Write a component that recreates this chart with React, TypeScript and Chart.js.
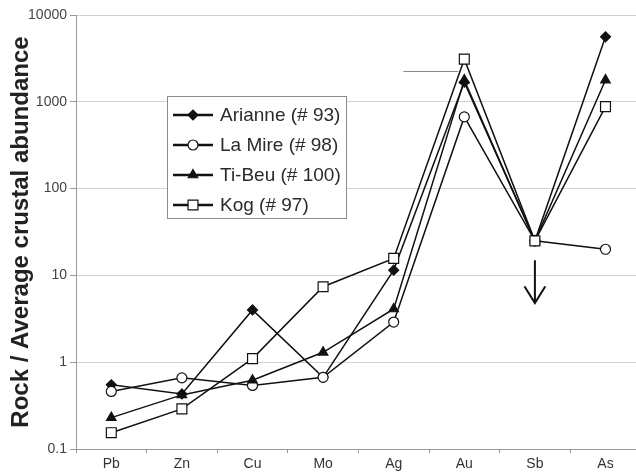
import React, { useEffect, useRef } from "react";
import { Chart, registerables } from "chart.js";
import { drawPoint } from "chart.js/helpers";

Chart.register(...registerables);

// Elements along the x axis
const elements = ["Pb", "Zn", "Cu", "Mo", "Ag", "Au", "Sb", "As"];

// Rock / average crustal abundance for each sample
const arianne = [0.55, 0.43, 4.0, 0.67, 11.5, 1680, 25, 5600];
const laMire = [0.46, 0.66, 0.54, 0.67, 2.9, 670, 25, 20];
const tiBeu = [0.23, 0.42, 0.62, 1.3, 4.1, 1780, 25, 1780];
const kog = [0.154, 0.29, 1.1, 7.4, 15.7, 3100, 25, 880];

const yTicks = [0.1, 1, 10, 100, 1000, 10000];

// Downward arrow under Sb (detection-limit marker), in data units
const arrowTop = 14.7;
const arrowTip = 4.8;

const seriesNames = ["Arianne (# 93)", "La Mire (# 98)", "Ti-Beu (# 100)", "Kog (# 97)"];

const FONT = "'Liberation Sans', Arial, Helvetica, sans-serif";

const overlayPlugin = {
  id: "overlay",
  afterDraw(chart: any) {
    const ctx = chart.ctx as CanvasRenderingContext2D;
    const xs = chart.scales.x;
    const ys = chart.scales.y;

    // short stray rule left of the Au peak
    const au = xs.getPixelForValue(5);
    ctx.save();
    ctx.strokeStyle = "#8a8a8a";
    ctx.lineWidth = 1;
    ctx.beginPath();
    ctx.moveTo(au - 61, 71.5);
    ctx.lineTo(au - 6, 71.5);
    ctx.stroke();
    ctx.restore();

    // arrow below Sb
    const sx = xs.getPixelForValue(6);
    const yTop = ys.getPixelForValue(arrowTop);
    const yTip = ys.getPixelForValue(arrowTip);
    ctx.save();
    ctx.strokeStyle = "#111";
    ctx.lineWidth = 2;
    ctx.lineCap = "round";
    ctx.beginPath();
    ctx.moveTo(sx, yTop);
    ctx.lineTo(sx, yTip);
    ctx.moveTo(sx - 10, yTip - 16);
    ctx.lineTo(sx, yTip);
    ctx.lineTo(sx + 10, yTip - 16);
    ctx.stroke();
    ctx.restore();

    // legend box
    const bx = 167, by = 96, bw = 179, bh = 122;
    ctx.save();
    ctx.fillStyle = "#ffffff";
    ctx.fillRect(bx, by, bw, bh);
    ctx.strokeStyle = "#8c8c8c";
    ctx.lineWidth = 1;
    ctx.strokeRect(bx + 0.5, by + 0.5, bw, bh);
    const ds = chart.data.datasets;
    for (let i = 0; i < ds.length; i++) {
      const rowY = 115 + i * 30;
      ctx.strokeStyle = "#111";
      ctx.lineWidth = 2.5;
      ctx.beginPath();
      ctx.moveTo(173, rowY);
      ctx.lineTo(213, rowY);
      ctx.stroke();
      ctx.lineWidth = 1.2;
      ctx.fillStyle = ds[i].pointBackgroundColor;
      ctx.strokeStyle = "#111";
      drawPoint(ctx, { pointStyle: ds[i].pointStyle, radius: ds[i].pointRadius, rotation: 0, borderWidth: 1.2 }, 193, rowY);
      ctx.fillStyle = "#2a2a2a";
      ctx.font = `19px ${FONT}`;
      ctx.textBaseline = "middle";
      ctx.textAlign = "left";
      ctx.fillText(ds[i].label, 220, rowY + 1);
    }
    ctx.restore();
  },
};

function makeSet(label: string, data: number[], style: string, fill: string, radius: number, order: number) {
  return {
    label,
    data,
    borderColor: "#111",
    borderWidth: 1.5,
    pointStyle: style,
    pointRadius: radius,
    pointBorderWidth: 1.2,
    pointBorderColor: "#111",
    pointBackgroundColor: fill,
    tension: 0,
    order,
  };
}

export default function App() {
  const ref = useRef<HTMLCanvasElement>(null);

  useEffect(() => {
    if (!ref.current) return;
    const chart = new Chart(ref.current, {
      type: "line",
      data: {
        labels: elements,
        datasets: [
          makeSet(seriesNames[0], arianne, "rectRot", "#111", 5, 3),
          makeSet(seriesNames[1], laMire, "circle", "#ffffff", 5, 2),
          makeSet(seriesNames[2], tiBeu, "triangle", "#111", 5.5, 1),
          makeSet(seriesNames[3], kog, "rect", "#ffffff", 7, 0),
        ],
      },
      options: {
        responsive: false,
        animation: false,
        layout: { padding: { top: 15, left: 0, right: 0, bottom: 0 } },
        plugins: {
          legend: { display: false },
          tooltip: { enabled: false },
        },
        scales: {
          x: {
            type: "category",
            offset: true,
            grid: {
              display: true,
              drawOnChartArea: false,
              offset: true,
              tickLength: 4,
              tickColor: "#999",
            },
            border: { color: "#999", width: 1 },
            ticks: {
              color: "#333",
              font: { family: FONT, size: 14 },
              padding: 3,
              maxRotation: 0,
            },
            afterFit(scale: any) {
              scale.height = 24;
            },
          },
          y: {
            type: "logarithmic",
            min: 0.1,
            max: 10000,
            afterBuildTicks(scale: any) {
              scale.ticks = yTicks.map((v) => ({ value: v }));
            },
            grid: {
              color: "#d2d2d2",
              tickLength: 6,
              tickColor: "#999",
              lineWidth: 1,
            },
            border: { color: "#999", width: 1 },
            ticks: {
              color: "#444",
              font: { family: FONT, size: 14 },
              padding: 3,
              callback: (v: any) => String(v),
            },
            title: {
              display: true,
              text: "Rock / Average crustal abundance",
              color: "#222",
              font: { family: FONT, size: 24, weight: "bold" },
              padding: { top: 7, bottom: 0 },
            },
            afterFit(scale: any) {
              scale.width = 76;
            },
          },
        },
      },
      plugins: [overlayPlugin],
    });
    return () => chart.destroy();
  }, []);

  return (
    <div style={{ position: "fixed", left: 0, top: 0, width: 636, height: 473, overflow: "hidden", background: "#fff" }}>
      <canvas ref={ref} width={649} height={473} style={{ display: "block" }} />
    </div>
  );
}
